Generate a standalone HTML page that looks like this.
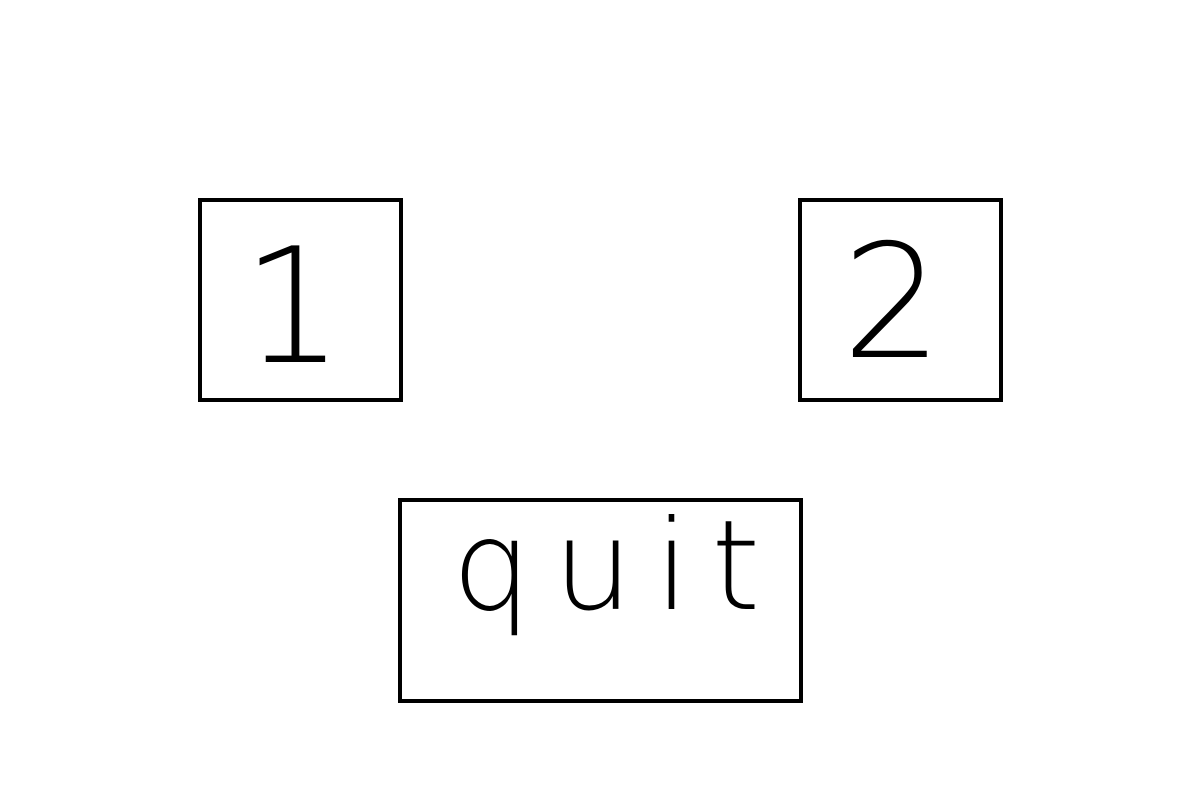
<!DOCTYPE html>
<html>
<head>
<meta charset="utf-8">
<style>
  html, body { margin: 0; padding: 0; background: #ffffff; }
  body { width: 1200px; height: 800px; position: relative; overflow: hidden; font-family: "Liberation Sans", sans-serif; }
  .box { position: absolute; box-sizing: border-box; border: 4px solid #000; background: #fff; }
  .lbl { position: absolute; color: #000; font-family: "DejaVu Sans ExtraLight", "DejaVu Sans", "Liberation Sans", sans-serif; font-weight: 200; line-height: 1; white-space: nowrap; }
</style>
</head>
<body>
  <div class="box" style="left:198px; top:198px; width:205px; height:204px;">
    <span class="lbl" style="left:40px; top:25px; font-size:160px;">1</span>
  </div>
  <div class="box" style="left:798px; top:198px; width:205px; height:204px;">
    <span class="lbl" style="left:40px; top:22px; font-size:158px;">2</span>
  </div>
  <div class="box" style="left:398px; top:498px; width:405px; height:205px;">
    <span class="lbl" style="left:50px; top:2px; font-size:125px; letter-spacing:22px;">quit</span>
  </div>
</body>
</html>
